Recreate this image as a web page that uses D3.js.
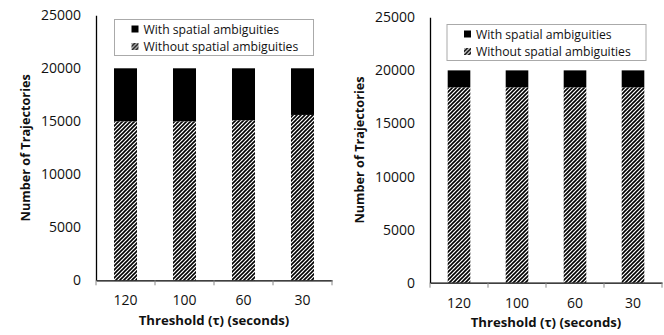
<!DOCTYPE html>
<html><head><meta charset="utf-8">
<script src="https://cdn.jsdelivr.net/npm/d3@7"></script>
<style>body{margin:0;background:#fff}svg{display:block}text{font-family:"Open Sans", sans-serif}</style>
</head><body>
<svg id="c" width="664" height="335"></svg>
<script>
const categories = ["120", "100", "60", "30"];
const leftWithout = [15000, 15000, 15100, 15600];
const leftWith = [5000, 5000, 4900, 4400];
const rightWithout = [18400, 18400, 18400, 18400];
const rightWith = [1600, 1600, 1600, 1600];
const yTicks = [0, 5000, 10000, 15000, 20000, 25000];
const seriesNames = ["With spatial ambiguities", "Without spatial ambiguities"];
const xTitle = "Threshold (\u03c4) (seconds)";
const yTitle = "Number of Trajectories";

const svg = d3.select("#c");
const defs = svg.append("defs");
const pat = defs.append("pattern").attr("id","hatch").attr("patternUnits","userSpaceOnUse")
  .attr("width",4).attr("height",4);
pat.append("rect").attr("width",4).attr("height",4).attr("fill","#fff");
pat.append("path").attr("d","M-1,1 l2,-2 M0,4 l4,-4 M3,5 l2,-2").attr("stroke","#000").attr("stroke-width",1.6);

function panel(cfg){
  const g = svg.append("g");
  const x = d3.scaleBand().domain(categories).range([cfg.x0, cfg.x1]).paddingInner(0).paddingOuter(0);
  const y = d3.scaleLinear().domain([0,25000]).range([cfg.y0, cfg.yTop]);
  const bw = x.bandwidth()*0.39;
  const data = categories.map((c,i)=>({c, wo: cfg.without[i], w: cfg.with[i]}));
  g.selectAll(".wo").data(data).join("rect")
    .attr("x", d=>x(d.c)+x.bandwidth()/2-bw/2).attr("width", bw)
    .attr("y", d=>y(d.wo)).attr("height", d=>y(0)-y(d.wo))
    .attr("fill","url(#hatch)");
  g.selectAll(".w").data(data).join("rect")
    .attr("x", d=>x(d.c)+x.bandwidth()/2-bw/2).attr("width", bw)
    .attr("y", d=>y(d.wo+d.w)).attr("height", d=>y(d.wo)-y(d.wo+d.w))
    .attr("fill","#000");
  const ya = g.append("g").attr("transform",`translate(${cfg.x0},0)`)
    .call(d3.axisLeft(y).tickValues(yTicks).tickSize(0).tickPadding(15).tickFormat(d3.format("d")));
  ya.select(".domain").attr("stroke","#000").attr("stroke-width",1.3);
  ya.selectAll("text").attr("font-size",14).attr("fill","#111").style("font-family","'Open Sans', sans-serif");
  const xa = g.append("g").attr("transform",`translate(0,${cfg.y0})`)
    .call(d3.axisBottom(x).tickSize(0).tickPadding(15));
  xa.select(".domain").attr("stroke","#000").attr("stroke-width",1.3);
  xa.selectAll("text").attr("font-size",14).attr("fill","#111").style("font-family","'Open Sans', sans-serif");
  const bounds = categories.map(c=>x(c)).concat([cfg.x1]);
  xa.selectAll(".sep").data(bounds).join("line")
    .attr("x1",d=>d).attr("x2",d=>d).attr("y1",0).attr("y2",5).attr("stroke","#888");
  g.append("text").attr("x",(cfg.x0+cfg.x1)/2).attr("y",cfg.xtY).attr("text-anchor","middle")
    .attr("font-size",13.2).attr("font-weight","bold").attr("fill","#111").text(xTitle);
  g.append("text").attr("transform",`translate(${cfg.ytX},${(cfg.y0+cfg.yTop)/2}) rotate(-90)`)
    .attr("text-anchor","middle").attr("font-size",12.7).attr("font-weight","bold").attr("fill","#111").text(yTitle);
  const L = g.append("g").attr("transform",`translate(${cfg.lx},${cfg.ly})`);
  L.append("rect").attr("width",199).attr("height",36).attr("fill","#fff").attr("stroke","#aaa");
  const items = [{n:seriesNames[0], f:"#000"},{n:seriesNames[1], f:"url(#hatch)"}];
  items.forEach((it,i)=>{
    L.append("rect").attr("x",17).attr("y",6+i*17.5).attr("width",7).attr("height",7).attr("fill",it.f);
    L.append("text").attr("x",29).attr("y",10+i*17.5).attr("dy","0.35em").attr("font-size",12.2).attr("fill","#111").text(it.n);
  });
}

panel({x0:96, x1:332, y0:280.3, yTop:15.3, without:leftWithout, with:leftWith, xtY:325, ytX:30, lx:114.5, ly:19.5});
panel({x0:430, x1:662, y0:282.7, yTop:17.3, without:rightWithout, with:rightWith, xtY:327, ytX:364, lx:447, ly:24.5});
</script>
</body></html>
